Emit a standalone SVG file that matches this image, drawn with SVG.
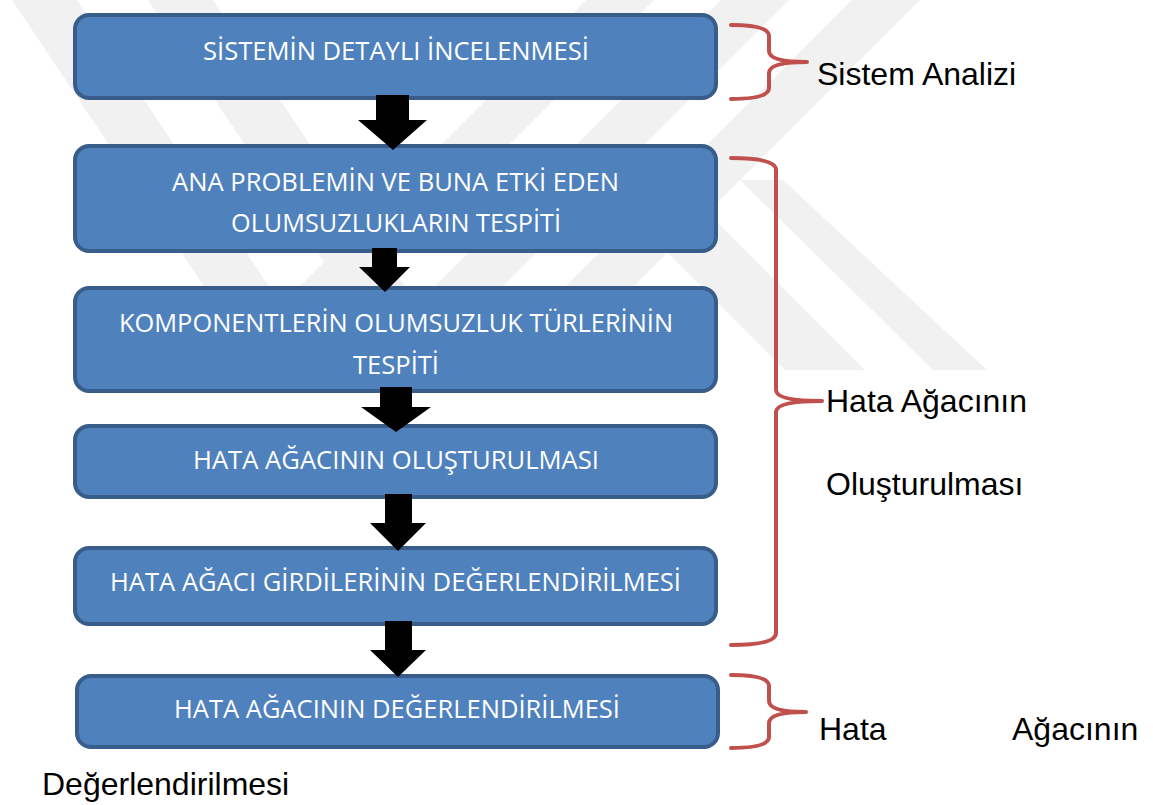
<svg xmlns="http://www.w3.org/2000/svg" width="1153" height="805" viewBox="0 0 1153 805">
  <style>
    .wm { fill: #f1f1f1; }
    .box { fill: #4f81bd; stroke: #385d8a; stroke-width: 4; }
    .btxt { fill: #ffffff; font-family: "Open Sans", "Liberation Sans", sans-serif; font-size: 25px; text-anchor: middle; }
    .arrow { fill: #000000; }
    .brace { fill: none; stroke: #c0504d; stroke-width: 4; stroke-linecap: round; stroke-linejoin: round; }
    .lbl { fill: #000000; font-family: "Liberation Sans", Arial, sans-serif; font-size: 32px; }
  </style>

  <rect width="1153" height="805" fill="#ffffff"/>

  <!-- faint background stripes -->
  <g id="watermark">
    <polygon class="wm" points="12,0 77,0 325,370 260,370"/>
    <polygon class="wm" points="148,0 213,0 461,370 396,370"/>
    <polygon class="wm" points="852,0 920,0 550,370 482,370"/>
    <polygon class="wm" points="721,0 789,0 419,370 351,370"/>
    <polygon class="wm" points="586,0 654,0 284,370 216,370"/>
    <polygon class="wm" points="565,150 645,150 865,370 785,370"/>
    <polygon class="wm" points="740,180 783,180 987,370 933,370"/>
  </g>

  <!-- process steps -->
  <g id="step1">
    <rect class="box" x="75" y="15" width="641" height="83" rx="14"/>
    <text class="btxt" x="396" y="60" textLength="386" lengthAdjust="spacingAndGlyphs">SİSTEMİN DETAYLI İNCELENMESİ</text>
  </g>
  <g id="step2">
    <rect class="box" x="75" y="146" width="641" height="105" rx="14"/>
    <text class="btxt" x="395.5" y="191" textLength="447" lengthAdjust="spacingAndGlyphs">ANA PROBLEMİN VE BUNA ETKİ EDEN</text>
    <text class="btxt" x="396" y="232" textLength="330" lengthAdjust="spacingAndGlyphs">OLUMSUZLUKLARIN TESPİTİ</text>
  </g>
  <g id="step3">
    <rect class="box" x="75" y="288" width="641" height="103" rx="14"/>
    <text class="btxt" x="396" y="332" textLength="554" lengthAdjust="spacingAndGlyphs">KOMPONENTLERİN OLUMSUZLUK TÜRLERİNİN</text>
    <text class="btxt" x="396" y="374" textLength="86" lengthAdjust="spacingAndGlyphs">TESPİTİ</text>
  </g>
  <g id="step4">
    <rect class="box" x="75" y="426" width="641" height="71" rx="14"/>
    <text class="btxt" x="396" y="469" textLength="406" lengthAdjust="spacingAndGlyphs">HATA AĞACININ OLUŞTURULMASI</text>
  </g>
  <g id="step5">
    <rect class="box" x="75" y="548" width="641" height="76" rx="14"/>
    <text class="btxt" x="395.5" y="591" textLength="571" lengthAdjust="spacingAndGlyphs">HATA AĞACI GİRDİLERİNİN DEĞERLENDİRİLMESİ</text>
  </g>
  <g id="step6">
    <rect class="box" x="77" y="676" width="641" height="71" rx="14"/>
    <text class="btxt" x="397" y="718" textLength="446" lengthAdjust="spacingAndGlyphs">HATA AĞACININ DEĞERLENDİRİLMESİ</text>
  </g>

  <!-- block arrows between steps -->
  <g id="connectors">
    <polygon class="arrow" points="376,95 409,95 409,120 427,120 393,150 358,120 376,120"/>
    <polygon class="arrow" points="372,248 397,248 397,267 410,267 385,292 359,267 372,267"/>
    <polygon class="arrow" points="380,387 412,387 412,407 431,407 396,432 361,407 380,407"/>
    <polygon class="arrow" points="385,494 412,494 412,523 426,523 398,551 370,523 385,523"/>
    <polygon class="arrow" points="385,621 412,621 412,650 426,650 398,677 370,650 385,650"/>
  </g>

  <!-- phase braces -->
  <g id="brace-analysis">
    <path class="brace" d="M731,25 Q769,25 769,36 L769,51 Q769,62 807,62 Q769,62 769,73 L769,88 Q769,99 731,99"/>
    <text class="lbl" x="817" y="85">Sistem Analizi</text>
  </g>
  <g id="brace-construction">
    <path class="brace" d="M731,158 Q776,158 776,170 L776,390 Q776,401 822,401 Q776,401 776,412 L776,633 Q776,645 731,645"/>
    <text class="lbl" x="826" y="412">Hata Ağacının</text>
    <text class="lbl" x="826" y="495">Oluşturulması</text>
  </g>
  <g id="brace-evaluation">
    <path class="brace" d="M731,675 Q769,675 769,686 L769,701 Q769,712 806,712 Q769,712 769,723 L769,737 Q769,748 731,748"/>
    <text class="lbl" x="819" y="740">Hata</text>
    <text class="lbl" x="1012" y="740">Ağacının</text>
    <text class="lbl" x="42" y="795">Değerlendirilmesi</text>
  </g>
</svg>
